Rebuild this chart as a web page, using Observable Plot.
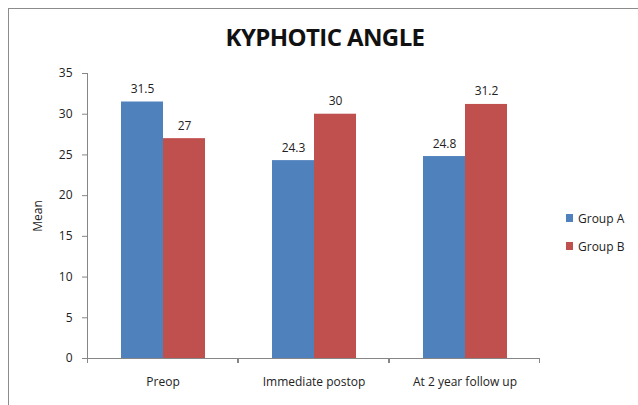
<!DOCTYPE html>
<html><head><meta charset="utf-8">
<script src="https://cdn.jsdelivr.net/npm/d3@7"></script>
<script src="https://cdn.jsdelivr.net/npm/@observablehq/plot@0.6"></script>
<style>
body{margin:0;background:#fff;}
#wrap{position:relative;width:638px;height:405px;overflow:hidden;font-family:"Open Sans",sans-serif;background:#fff;}
#frame{position:absolute;left:8px;top:8px;width:700px;height:500px;border-top:1px solid #8c8c8c;border-left:1px solid #8c8c8c;box-sizing:border-box;}
#title{position:absolute;top:24px;left:0;width:650px;text-align:center;font-weight:bold;font-size:24px;letter-spacing:-0.6px;line-height:26px;color:#111;}
#chart{position:absolute;left:0;top:0;}
#legend{position:absolute;left:566px;top:204px;font-size:12px;color:#222;}
.item{display:flex;align-items:center;height:28px;}
.sw{width:7px;height:8px;margin-right:5px;}
</style></head>
<body>
<div id="wrap">
  <div id="frame"></div>
  <div id="chart"></div>
  <div id="title">KYPHOTIC ANGLE</div>
  <div id="legend"></div>
</div>
<script>
const categories = ["Preop", "Immediate postop", "At 2 year follow up"];
const groups = ["Group A", "Group B"];
const groupA = [31.5, 24.3, 24.8];
const groupB = [27, 30, 31.2];
const yTicks = [0, 5, 10, 15, 20, 25, 30, 35];
const colors = ["#4F81BD", "#C0504D"];
const axisColor = "#868686";

const data = categories.flatMap((c, i) => [
  {category: c, group: groups[0], value: groupA[i]},
  {category: c, group: groups[1], value: groupB[i]}
]);

function baseAxis(index, scales, values, dims) {
  const y0 = Math.round(scales.y(0));
  const x0 = dims.marginLeft, x1 = dims.width - dims.marginRight;
  const g = d3.create("svg:g").attr("stroke", axisColor).attr("stroke-width", 1).attr("fill", "none");
  g.append("line").attr("x1", x0).attr("x2", x1).attr("y1", y0 + 0.5).attr("y2", y0 + 0.5);
  g.append("line").attr("x1", x0 + 0.5).attr("x2", x0 + 0.5).attr("y1", y0).attr("y2", y0 + 5);
  g.append("line").attr("x1", x1 - 0.5).attr("x2", x1 - 0.5).attr("y1", y0).attr("y2", y0 + 5);
  return g.node();
}

const plot = Plot.plot({
  width: 638, height: 405,
  marginLeft: 86, marginRight: 97, marginTop: 73, marginBottom: 47,
  style: {fontFamily: '"Open Sans", sans-serif', fontSize: "12px", color: "#222", background: "transparent", overflow: "visible"},
  fx: {domain: categories, padding: 0, label: null},
  x: {domain: groups, paddingInner: 0, paddingOuter: 0.76, axis: null},
  y: {domain: [0, 35]},
  color: {domain: groups, range: colors},
  marks: [
    Plot.barY(data, {fx: "category", x: "group", y: "value", fill: "group"}),
    Plot.text(data, {fx: "category", x: "group", y: "value", text: d => String(d.value), dy: -9, lineAnchor: "bottom", fill: "#222"}),
    Plot.axisY({ticks: yTicks, tickSize: 5, tickPadding: 10, stroke: axisColor, label: "Mean", labelAnchor: "center", labelArrow: "none", labelOffset: 54}),
    Plot.axisFx({anchor: "bottom", tickSize: 0, tickPadding: 19, label: null}),
    Plot.frame({anchor: "left", facetAnchor: "left", stroke: axisColor}),
    baseAxis
  ]
});
document.getElementById("chart").appendChild(plot);

const legend = d3.select("#legend");
groups.forEach((g, i) => {
  const it = legend.append("div").attr("class", "item");
  it.append("div").attr("class", "sw").style("background", colors[i]);
  it.append("span").text(g);
});
</script>
</body></html>
